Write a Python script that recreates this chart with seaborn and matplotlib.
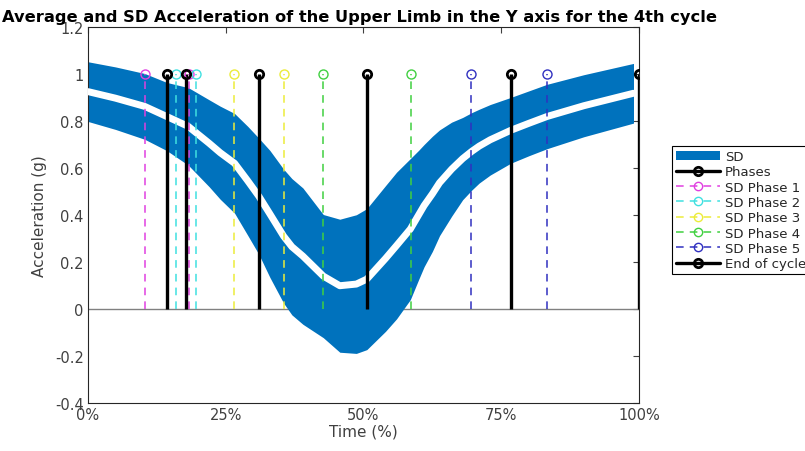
import matplotlib
matplotlib.use("Agg")
import matplotlib.pyplot as plt
import numpy as np
import pandas as pd
import seaborn as sns
from matplotlib.legend_handler import HandlerLine2D
from matplotlib.lines import Line2D
from matplotlib.patches import Patch

# time (%) and the average / SD of acceleration
TIME = [0, 5, 10.3, 14.3, 18.2, 22, 24, 26.6, 29, 31.0, 33, 35.5, 37, 39,
        42.7, 45.7, 48.7, 50.6, 54, 56, 58.5, 60, 61, 62.5, 63.8, 66, 68,
        69.6, 71, 73, 76.7, 80, 83.3, 90, 99]
MEAN = [0.925, 0.897, 0.862, 0.819, 0.777, 0.705, 0.665, 0.62, 0.545, 0.48,
        0.405, 0.31, 0.265, 0.225, 0.14, 0.099, 0.106, 0.127, 0.215, 0.27,
        0.34, 0.40, 0.44, 0.49, 0.537, 0.595, 0.64, 0.67, 0.693, 0.72, 0.76,
        0.79, 0.819, 0.865, 0.918]
SD = [0.127, 0.133, 0.14, 0.145, 0.165, 0.185, 0.198, 0.212, 0.232, 0.247,
      0.27, 0.285, 0.29, 0.29, 0.262, 0.283, 0.295, 0.30, 0.31, 0.312, 0.30,
      0.275, 0.26, 0.245, 0.225, 0.2, 0.175, 0.165, 0.157, 0.15, 0.14,
      0.138, 0.137, 0.132, 0.127]

PHASES = [14.34, 17.86, 31.03, 50.64, 76.84]
END_OF_CYCLE = [100]
SD_PHASES = {
    "SD Phase 1": [10.29, 18.33],
    "SD Phase 2": [16.04, 19.6],
    "SD Phase 3": [26.5, 35.52],
    "SD Phase 4": [42.65, 58.57],
    "SD Phase 5": [69.58, 83.38],
}
SD_COLORS = ["#e040e0", "#40e0e0", "#ecec3a", "#40d040", "#3030c0"]

BAND_COLOR = "#0072BD"
TEXT_COLOR = "#404040"


class StemHandler(HandlerLine2D):
    # marker at the right end of the legend line, like MATLAB stems
    def get_xdata(self, legend, xdescent, ydescent, width, height, fontsize):
        xdata = np.array([-xdescent, -xdescent + width])
        return xdata, np.array([-xdescent + width])


def draw_stems(ax, xs, color, ls, lw, mew, ms):
    ax.vlines(xs, 0, 1, colors=color, linestyles=ls, linewidth=lw, zorder=4)
    ax.plot(xs, [1] * len(xs), ls="none", marker="o", ms=ms, mfc="none",
            mec=color, mew=mew, zorder=5)


def main():
    sns.set_theme(style="white")
    plt.rcParams["font.family"] = ["DejaVu Sans"]

    df = pd.DataFrame({"time": TIME, "mean": MEAN, "sd": SD})
    df["upper"] = df["mean"] + df["sd"]
    df["lower"] = df["mean"] - df["sd"]

    fig = plt.figure(figsize=(8.05, 4.52), dpi=100)
    ax = fig.add_axes([0.1093, 0.1062, 0.6845, 0.8319])

    ax.axhline(0, color="#808080", lw=1.0, zorder=1)
    ax.fill_between(df["time"], df["lower"], df["upper"], color=BAND_COLOR,
                    lw=0, zorder=2)
    sns.lineplot(data=df, x="time", y="mean", color="white", lw=5, ax=ax,
                 zorder=3)

    for (name, xs), color in zip(SD_PHASES.items(), SD_COLORS):
        draw_stems(ax, xs, color, (0, (5, 4)), 1.1, 1.0, 6.5)
    draw_stems(ax, PHASES, "black", "solid", 2.4, 2.0, 6)
    draw_stems(ax, END_OF_CYCLE, "black", "solid", 2.4, 2.0, 6)

    ax.set_xlim(0, 100)
    ax.set_ylim(-0.4, 1.2)
    ax.set_xticks([0, 25, 50, 75, 100])
    ax.set_xticklabels(["0%", "25%", "50%", "75%", "100%"])
    yticks = np.round(np.arange(-0.4, 1.21, 0.2), 1)
    ax.set_yticks(yticks)
    ax.set_yticklabels([f"{v:g}" for v in yticks])
    ax.tick_params(direction="in", length=4, width=0.8, colors=TEXT_COLOR,
                   labelsize=10.5, top=True, right=True, pad=3)
    for spine in ax.spines.values():
        spine.set_color("#262626")
        spine.set_linewidth(0.8)

    ax.set_xlabel("Time (%)", fontsize=11, color=TEXT_COLOR, labelpad=1)
    ax.set_ylabel("Acceleration (g)", fontsize=11, color=TEXT_COLOR, labelpad=6)
    fig.text(0.447, 0.962, "Average and SD Acceleration of the Upper Limb in the Y axis for the 4th cycle",
             ha="center", va="center", fontsize=11.7, fontweight="bold", color="black")

    handles = [Patch(facecolor=BAND_COLOR, edgecolor="none")]
    labels = ["SD"]
    handles.append(Line2D([], [], color="black", lw=2.4, marker="o", ms=6,
                          mfc="none", mew=2.0))
    labels.append("Phases")
    for name, color in zip(SD_PHASES, SD_COLORS):
        handles.append(Line2D([], [], color=color, lw=1.1, ls=(0, (5, 4)),
                              marker="o", ms=6, mfc="none", mew=1.0))
        labels.append(name)
    handles.append(Line2D([], [], color="black", lw=2.4, marker="o", ms=6,
                          mfc="none", mew=2.0))
    labels.append("End of cycle")

    leg = fig.legend(handles, labels, loc="upper left",
                     bbox_to_anchor=(0.835, 0.675), fontsize=9.5,
                     frameon=True, fancybox=False, edgecolor="black",
                     framealpha=1, handlelength=3.3, handletextpad=0.4,
                     labelspacing=0.18, borderpad=0.3, borderaxespad=0,
                     numpoints=1,
                     handler_map={Line2D: StemHandler()})
    leg.get_frame().set_linewidth(0.8)

    fig.savefig("out.png", dpi=100)
    plt.close(fig)


if __name__ == "__main__":
    main()
